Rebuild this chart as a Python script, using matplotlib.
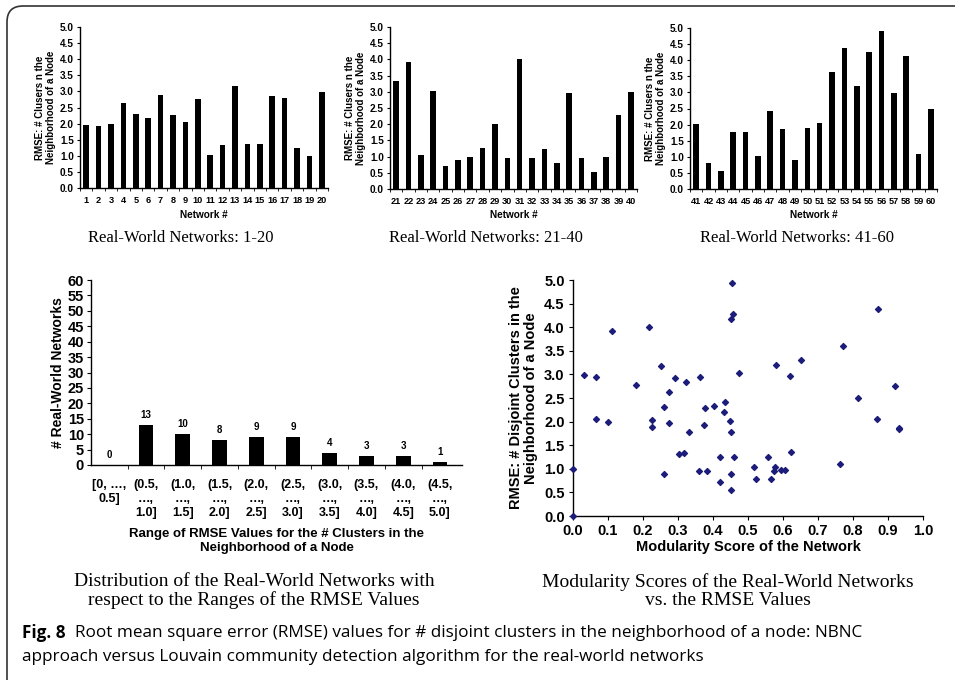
"""
Fig. 8: RMSE of # disjoint clusters (NBNC vs Louvain) for 60 real-world networks
"""
import numpy as np
import matplotlib
matplotlib.use("Agg")
import matplotlib.pyplot as plt
from matplotlib.patches import FancyBboxPatch

plt.rcParams["font.family"] = ["Liberation Sans", "DejaVu Sans"]
plt.rcParams["font.weight"] = "bold"

# --- data ------------------------------------------------------------------
net_1_20 = list(range(1, 21))
rmse_1_20 = [1.97, 1.92, 2.00, 2.63, 2.30, 2.18, 2.90, 2.27, 2.05, 2.77,
             1.03, 1.35, 3.17, 1.38, 1.38, 2.85, 2.78, 1.25, 0.98, 2.97]

net_21_40 = list(range(21, 41))
rmse_21_40 = [3.32, 3.93, 1.04, 3.03, 0.71, 0.88, 0.98, 1.26, 2.00, 0.96,
              4.00, 0.96, 1.25, 0.80, 2.95, 0.95, 0.52, 0.98, 2.27, 3.00]

net_41_60 = list(range(41, 61))
rmse_41_60 = [2.02, 0.80, 0.57, 1.77, 1.77, 1.02, 2.42, 1.85, 0.90, 1.88,
              2.05, 3.62, 4.38, 3.20, 4.25, 4.92, 2.97, 4.12, 1.10, 2.50]

range_labels = ["[0, …,\n0.5]", "(0.5,\n…,\n1.0]", "(1.0,\n…,\n1.5]", "(1.5,\n…,\n2.0]",
                "(2.0,\n…,\n2.5]", "(2.5,\n…,\n3.0]", "(3.0,\n…,\n3.5]", "(3.5,\n…,\n4.0]",
                "(4.0,\n…,\n4.5]", "(4.5,\n…,\n5.0]"]
range_counts = [0, 13, 10, 8, 9, 9, 4, 3, 3, 1]

modularity = [0.00, 0.00, 0.03, 0.066, 0.065, 0.10, 0.11, 0.18, 0.216, 0.226,
              0.226, 0.252, 0.26, 0.26, 0.275, 0.275, 0.29, 0.304, 0.316, 0.322,
              0.33, 0.362, 0.361, 0.376, 0.375, 0.384, 0.404, 0.419, 0.419, 0.43,
              0.434, 0.448, 0.45, 0.455, 0.458, 0.451, 0.45, 0.45, 0.459, 0.473,
              0.518, 0.524, 0.556, 0.566, 0.577, 0.573, 0.58, 0.595, 0.605, 0.621,
              0.624, 0.652, 0.763, 0.772, 0.815, 0.869, 0.871, 0.921, 0.93, 0.932]
mod_rmse = [1.00, 0.00, 2.98, 2.95, 2.05, 2.00, 3.93, 2.77, 4.00, 2.03,
            1.88, 3.17, 2.30, 0.88, 2.62, 1.98, 2.92, 1.32, 1.34, 2.84,
            1.77, 2.94, 0.95, 2.29, 1.92, 0.95, 2.33, 1.24, 0.71, 2.21,
            2.42, 2.02, 4.17, 4.93, 4.27, 1.78, 0.88, 0.56, 1.24, 3.04,
            1.03, 0.78, 1.25, 0.78, 1.03, 0.95, 3.20, 0.98, 0.97, 2.96,
            1.36, 3.31, 1.10, 3.61, 2.50, 2.06, 4.39, 2.76, 1.87, 1.85]

W, H = 955, 680
fig = plt.figure(figsize=(W / 100, H / 100), dpi=100)


def px(left, top, right, bottom):
    return [left / W, 1 - bottom / H, (right - left) / W, (bottom - top) / H]


def style_axes(ax):
    for s in ("top", "right"):
        ax.spines[s].set_visible(False)
    for s in ("left", "bottom"):
        ax.spines[s].set_linewidth(1.0)


# (top) three bar panels
top_panels = [
    (net_1_20, rmse_1_20, px(80, 27, 328, 188), 181, "Real-World Networks: 1-20"),
    (net_21_40, rmse_21_40, px(390, 27, 637, 189), 486, "Real-World Networks: 21-40"),
    (net_41_60, rmse_41_60, px(690, 28, 937, 189), 797, "Real-World Networks: 41-60"),
]
for nets, vals, rect, title_x, title in top_panels:
    ax = fig.add_axes(rect)
    ax.bar(nets, vals, width=0.45, color="black")
    ax.set_ylim(0, 5.0)
    ax.set_xlim(nets[0] - 0.35, nets[-1] + 0.42)
    ax.set_yticks(np.arange(0, 5.01, 0.5))
    ax.set_yticklabels([f"{v:.1f}" for v in np.arange(0, 5.01, 0.5)], fontsize=7.2)
    ax.set_xticks(nets)
    ax.set_xticklabels([str(n) for n in nets], fontsize=6.6)
    ax.set_xticks([n + 0.5 for n in [nets[0] - 1] + nets], minor=True)
    ax.tick_params(axis="x", which="major", length=0, pad=6)
    ax.tick_params(axis="x", which="minor", length=2.5, direction="out")
    ax.tick_params(axis="y", length=2.5, direction="out", pad=2)
    style_axes(ax)
    ax.set_xlabel("Network #", fontsize=7.2, fontweight="bold", labelpad=3)
    ax.set_ylabel("RMSE: # Clusers n the\nNeighborhood of a Node", fontsize=7,
                  fontweight="bold", labelpad=3, linespacing=1.1)
    fig.text(title_x / W, 1 - 238 / H, title, ha="center", va="center", fontsize=12,
             family="Liberation Serif", fontweight="normal")

# (bottom-left) distribution of the networks over RMSE ranges
ax_h = fig.add_axes(px(91, 280, 462, 465))
pos = np.arange(len(range_counts))
ax_h.bar(pos, range_counts, width=0.4, color="black")
for p, c in zip(pos, range_counts):
    ax_h.text(p, c + 3.2, str(c), ha="center", va="center", fontsize=7, fontweight="bold")
ax_h.set_ylim(0, 60)
ax_h.set_xlim(-0.5, 9.6)
ax_h.set_yticks(range(0, 61, 5))
ax_h.set_yticklabels([str(v) for v in range(0, 61, 5)], fontsize=10.5)
ax_h.set_xticks(pos)
ax_h.set_xticklabels(range_labels, fontsize=9, linespacing=1.25)
ax_h.set_xticks(pos[:-1] + 0.5, minor=True)
ax_h.tick_params(axis="x", which="major", length=0, pad=10)
ax_h.tick_params(axis="x", which="minor", length=3, direction="out")
ax_h.tick_params(axis="y", length=3, direction="out", pad=2)
style_axes(ax_h)
ax_h.set_ylabel("# Real-World Networks", fontsize=10, fontweight="bold", labelpad=2)
ax_h.set_xlabel("Range of RMSE Values for the # Clusters in the\nNeighborhood of a Node",
                fontsize=9.5, fontweight="bold", labelpad=6, linespacing=1.3)
fig.text(254 / W, 1 - 591 / H,
         "Distribution of the Real-World Networks with\nrespect to the Ranges of the RMSE Values",
         ha="center", va="center", fontsize=14, family="Liberation Serif",
         fontweight="normal", linespacing=1.1)

# (bottom-right) modularity score vs. RMSE
ax_s = fig.add_axes(px(573, 280, 923, 516))
ax_s.scatter(modularity, mod_rmse, marker="D", s=9, color="#1c1c7a", zorder=3,
             clip_on=False)
ax_s.set_xlim(0, 1.0)
ax_s.set_ylim(0, 5.0)
ax_s.set_xticks(np.arange(0, 1.01, 0.1))
ax_s.set_xticklabels([f"{v:.1f}" for v in np.arange(0, 1.01, 0.1)], fontsize=10.5)
ax_s.set_yticks(np.arange(0, 5.01, 0.5))
ax_s.set_yticklabels([f"{v:.1f}" for v in np.arange(0, 5.01, 0.5)], fontsize=10.5)
ax_s.tick_params(length=3, direction="out", pad=3)
style_axes(ax_s)
ax_s.set_xlabel("Modularity Score of the Network", fontsize=10.5, fontweight="bold",
                labelpad=1)
ax_s.set_ylabel("RMSE: # Disjoint Clusters in the\nNeighborhood of a Node", fontsize=10.5,
                fontweight="bold", labelpad=4, linespacing=1.1)
fig.text(728 / W, 1 - 591 / H,
         "Modularity Scores of the Real-World Networks\nvs. the RMSE Values",
         ha="center", va="center", fontsize=14, family="Liberation Serif",
         fontweight="normal", linespacing=1.1)

# caption
cap_font = ["Open Sans", "DejaVu Sans"]
fig.text(22 / W, 1 - 633 / H, "Fig. 8", ha="left", va="center", fontsize=12.3,
         family=cap_font, fontweight="bold")
fig.text(75 / W, 1 - 633 / H,
         "Root mean square error (RMSE) values for # disjoint clusters in the "
         "neighborhood of a node: NBNC",
         ha="left", va="center", fontsize=12.3, family=cap_font, fontweight="normal")
fig.text(22 / W, 1 - 657 / H,
         "approach versus Louvain community detection algorithm for the real-world networks",
         ha="left", va="center", fontsize=12.3, family=cap_font, fontweight="normal")

# rounded frame (only the top-left corner is inside the picture)
frame = FancyBboxPatch((7, -60), 1100, H - 6 + 60,
                       boxstyle="round,pad=0,rounding_size=16",
                       transform=None, fill=False, edgecolor="#333333", lw=1.2)
fig.patches.append(frame)

fig.savefig("out.png", dpi=100)
